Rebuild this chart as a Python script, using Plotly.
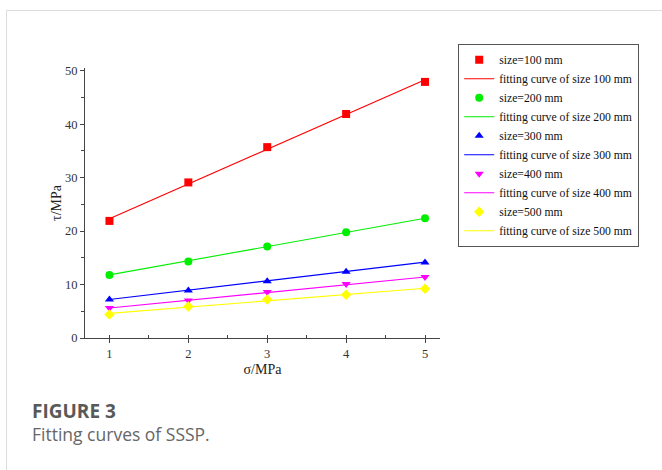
import plotly.graph_objects as go

# ---- data ----
sigma = [1, 2, 3, 4, 5]
sizes = ["100", "200", "300", "400", "500"]
tau_100 = [21.9, 29.1, 35.7, 41.9, 47.9]
tau_200 = [11.8, 14.3, 17.1, 19.8, 22.4]
tau_300 = [7.2, 8.9, 10.6, 12.4, 14.1]
tau_400 = [5.6, 7.0, 8.6, 10.1, 11.4]
tau_500 = [4.4, 5.9, 7.2, 8.1, 9.2]
fit_x = [1, 5]
fit_100 = [22.3, 48.3]
fit_200 = [11.8, 22.4]
fit_300 = [7.2, 14.2]
fit_400 = [5.6, 11.4]
fit_500 = [4.6, 9.3]

colors = ["#ff0000", "#00ee00", "#0000ff", "#ff00ff", "#ffff00"]
symbols = ["square", "circle", "triangle-up", "triangle-down", "diamond"]
tau_all = [tau_100, tau_200, tau_300, tau_400, tau_500]
fit_all = [fit_100, fit_200, fit_300, fit_400, fit_500]

serif = "Liberation Serif, Times New Roman, serif"

fig = go.Figure()
for s, c, sym, t, f in zip(sizes, colors, symbols, tau_all, fit_all):
    fig.add_trace(go.Scatter(
        x=sigma, y=t, mode="markers", name=f"size={s} mm",
        marker=dict(symbol=sym, color=c, size=8, line=dict(width=0)),
    ))
    fig.add_trace(go.Scatter(
        x=fit_x, y=f, mode="lines", name=f"fitting curve of size {s} mm",
        line=dict(color=c, width=1.1),
    ))

L, R, T, B = 85, 440, 68, 338
W, H = 662, 470

def px_x(p):
    return (p - L) / (R - L)

def px_y(p):
    return (B - p) / (B - T)

axis_common = dict(
    showline=True, linecolor="#444", linewidth=1.2, mirror=False,
    showgrid=False, zeroline=False,
    ticks="outside", ticklen=4, tickcolor="#444", tickwidth=1,
    tickfont=dict(family=serif, size=12.5, color="#333"),
)

fig.update_layout(
    width=W, height=H,
    margin=dict(l=L, r=W - R, t=T, b=H - B),
    paper_bgcolor="white", plot_bgcolor="white",
    showlegend=True,
    legend=dict(
        x=px_x(458), y=px_y(44), xanchor="left", yanchor="top",
        font=dict(family=serif, size=11.7, color="#111"),
        bgcolor="rgba(0,0,0,0)", bordercolor="#555", borderwidth=1.2,
        itemwidth=30, tracegroupgap=0,
    ),
    xaxis=dict(
        range=[0.69, 5.19], tickvals=sigma,
        minor=dict(ticks="inside", ticklen=3, tickcolor="#444", dtick=0.5, tick0=0.5),
        title=dict(text="σ/MPa", font=dict(family=serif, size=14, color="#222"), standoff=4),
        **axis_common,
    ),
    yaxis=dict(
        range=[0, 50.5], tickvals=[0, 10, 20, 30, 40, 50],
        minor=dict(ticks="outside", ticklen=3, tickcolor="#444", dtick=5, tick0=5),
        title=dict(text="τ/MPa", font=dict(family=serif, size=14, color="#222"), standoff=0),
        **axis_common,
    ),
    shapes=[
        # card border (left and top)
        dict(type="line", xref="paper", yref="paper",
             x0=px_x(6.5), x1=px_x(6.5), y0=px_y(10.5), y1=px_y(H + 5),
             line=dict(color="#dddddd", width=1)),
        dict(type="line", xref="paper", yref="paper",
             x0=px_x(6.5), x1=px_x(W + 5), y0=px_y(10.5), y1=px_y(10.5),
             line=dict(color="#dddddd", width=1)),
    ],
    annotations=[
        dict(text="<b>FIGURE 3</b>", xref="paper", yref="paper",
             x=px_x(30), y=px_y(411), xanchor="left", yanchor="middle",
             showarrow=False, font=dict(family="Open Sans, sans-serif", size=19, color="#595959")),
        dict(text="Fitting curves of SSSP.", xref="paper", yref="paper",
             x=px_x(30), y=px_y(434), xanchor="left", yanchor="middle",
             showarrow=False, font=dict(family="Open Sans, sans-serif", size=17.5, color="#666")),
    ],
)

fig.write_html("out.html")
